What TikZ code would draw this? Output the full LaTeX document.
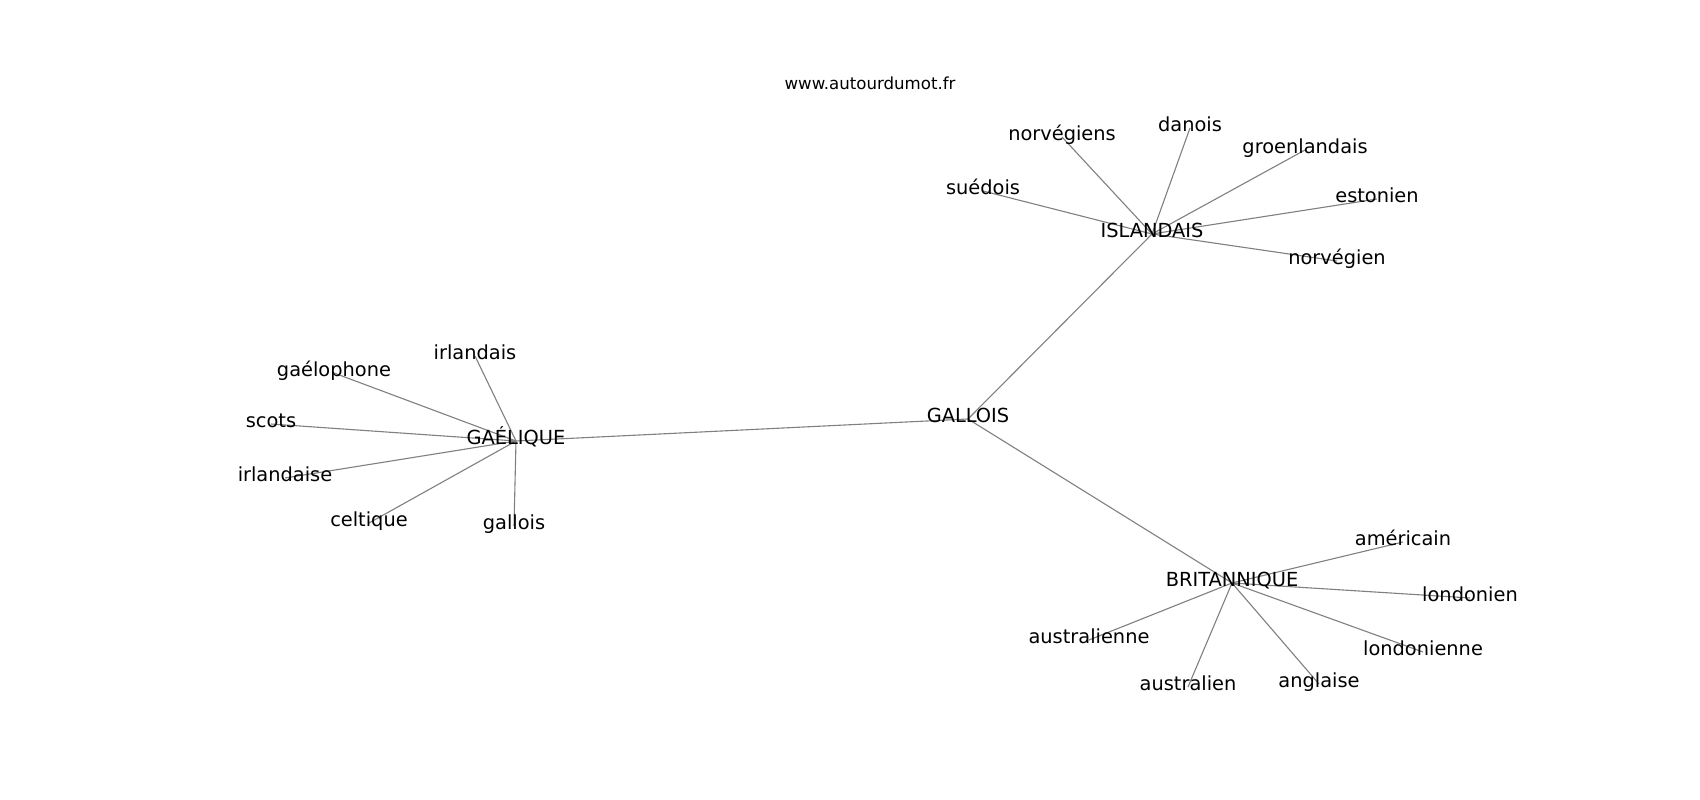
\documentclass[tikz,border=0pt]{standalone}
\usepackage{fontspec}
\setmainfont{DejaVu Sans}
\usetikzlibrary{backgrounds}

\begin{document}
\begin{tikzpicture}[x=0.01in, y=-0.01in]
		
		\tikzset{
			palabra/.style={inner sep=0pt, text height=0.76em, text depth=0.21em, font=\fontsize{14}{17}\selectfont},
			arista/.style={draw=black!50, line width=0.8pt}
		}
		\useasboundingbox (0,-4) rectangle (1700,796);
		
		% Titulo
		\node [inner sep=0pt, text height=0.76em, text depth=0.21em, font=\fontsize{12}{14}\selectfont] (titulo) at (870,82) {www.autourdumot.fr};
		
		% Nodos centrales
		\node [palabra] (gallois) at (968,415) {GALLOIS};
		\node [palabra] (islandais) at (1152,230) {ISLANDAIS};
		\node [palabra] (gaelique) at (516,437) {GAÉLIQUE};
		\node [palabra] (britannique) at (1232,579) {BRITANNIQUE};
		
		% Vecinos de ISLANDAIS
		\foreach \m/\l/\a/\b in {1/norvégiens/1062/133, 2/danois/1190/124, 3/groenlandais/1305/146, 4/suédois/983/187, 5/estonien/1377/195, 6/norvégien/1337/257}
		\node [palabra] (isl-\m) at (\a,\b) {\l};
		
		% Vecinos de GAELIQUE
		\foreach \m/\l/\a/\b in {1/irlandais/475/352, 2/gaélophone/334/369, 3/scots/271/420, 4/irlandaise/285/474, 5/celtique/369/519, 6/gallois/514/522}
		\node [palabra] (gae-\m) at (\a,\b) {\l};
		
		% Vecinos de BRITANNIQUE
		\foreach \m/\l/\a/\b in {1/américain/1403/538, 2/londonien/1470/594, 3/australienne/1089/636, 4/londonienne/1423/648, 5/australien/1188/683, 6/anglaise/1319/680}
		\node [palabra] (bri-\m) at (\a,\b) {\l};
		
		% Conexiones (debajo del texto)
		\begin{pgfonlayer}{background}
			\foreach \j in {islandais,gaelique,britannique}
			\draw [arista] (gallois.center) -- (\j.center);
			
			\foreach \i in {1,...,6}
			\draw [arista] (islandais.center) -- (isl-\i.center);
			
			\foreach \i in {1,...,6}
			\draw [arista] (gaelique.center) -- (gae-\i.center);
			
			\foreach \i in {1,...,6}
			\draw [arista] (britannique.center) -- (bri-\i.center);
		\end{pgfonlayer}
		
	\end{tikzpicture}
\end{document}
